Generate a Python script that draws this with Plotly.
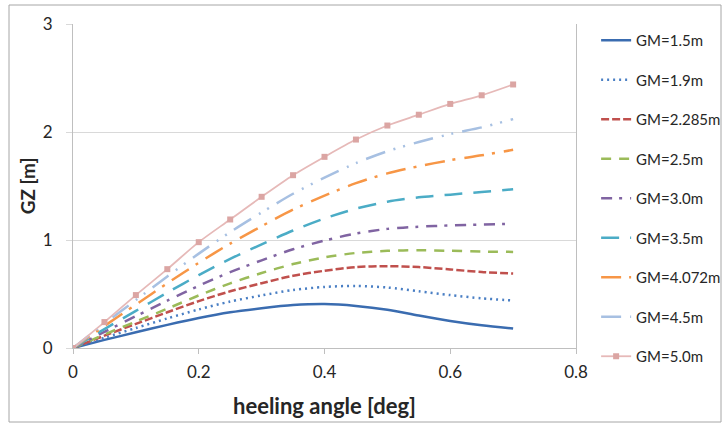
import plotly.graph_objects as go

# heeling angle values
angle = [0, 0.05, 0.1, 0.15, 0.2, 0.25, 0.3, 0.35, 0.4, 0.45, 0.5, 0.55, 0.6, 0.65, 0.7]

series_names = ["GM=1.5m", "GM=1.9m", "GM=2.285m", "GM=2.5m", "GM=3.0m",
                "GM=3.5m", "GM=4.072m", "GM=4.5m", "GM=5.0m"]

gz_15 = [0, 0.075, 0.145, 0.214, 0.278, 0.331, 0.368, 0.397, 0.407, 0.39, 0.355, 0.30, 0.25, 0.21, 0.18]
gz_19 = [0, 0.095, 0.185, 0.274, 0.357, 0.430, 0.487, 0.537, 0.565, 0.575, 0.56, 0.525, 0.49, 0.46, 0.44]
gz_2285 = [0, 0.114, 0.223, 0.331, 0.434, 0.525, 0.600, 0.669, 0.715, 0.749, 0.758, 0.749, 0.728, 0.703, 0.690]
gz_25 = [0, 0.125, 0.245, 0.364, 0.487, 0.599, 0.694, 0.777, 0.839, 0.880, 0.900, 0.905, 0.900, 0.893, 0.890]
gz_30 = [0, 0.150, 0.295, 0.438, 0.576, 0.702, 0.812, 0.914, 0.995, 1.060, 1.103, 1.123, 1.135, 1.142, 1.150]
gz_35 = [0, 0.175, 0.344, 0.513, 0.675, 0.826, 0.960, 1.088, 1.200, 1.290, 1.355, 1.395, 1.420, 1.445, 1.470]
gz_4072 = [0, 0.204, 0.402, 0.599, 0.789, 0.967, 1.128, 1.281, 1.411, 1.526, 1.617, 1.683, 1.739, 1.784, 1.835]
gz_45 = [0, 0.225, 0.444, 0.663, 0.874, 1.073, 1.255, 1.428, 1.577, 1.712, 1.822, 1.907, 1.981, 2.043, 2.119]
gz_50 = [0, 0.24, 0.49, 0.73, 0.98, 1.19, 1.40, 1.60, 1.77, 1.93, 2.06, 2.16, 2.26, 2.34, 2.44]

all_gz = [gz_15, gz_19, gz_2285, gz_25, gz_30, gz_35, gz_4072, gz_45, gz_50]

colors = ["#3a6cb0", "#4a7fc4", "#c0504d", "#9bbb59", "#8064a2",
          "#4bacc6", "#f79646", "#a7c0e2", "#e6b9b8"]
widths = [2.5, 2.5, 2.5, 2.5, 2.5, 2.5, 2.5, 2.5, 1.8]
dashes = ["solid", "2px,4px", "8px,3px", "10px,8px", "11px,7px,3px,8px",
          "18px,11px", "20px,8px,3px,9px", "20px,9px,2px,8px,2px,9px", "solid"]

fig = go.Figure()
for i, name in enumerate(series_names):
    marker = dict(symbol="square", size=6, color="#dba5a3") if name == "GM=5.0m" else None
    fig.add_trace(go.Scatter(
        x=angle, y=all_gz[i], name=name,
        mode="lines+markers" if marker else "lines",
        line=dict(color=colors[i], width=widths[i], dash=dashes[i], shape="spline", smoothing=0.8),
        marker=marker,
        legendgroup=name,
    ))

font_family = "Lato, Open Sans, sans-serif"

fig.update_layout(
    width=728, height=427,
    margin=dict(l=73, r=152, t=24, b=79, autoexpand=False),
    paper_bgcolor="white", plot_bgcolor="white",
    font=dict(family=font_family, color="#262626", size=15),
    legend=dict(x=1.04, y=1.0, xanchor="left", yanchor="top",
                font=dict(size=15, color="#262626"),
                tracegroupgap=17, bgcolor="rgba(0,0,0,0)",
                maxheight=420),
    xaxis=dict(range=[0, 0.8], tickvals=[0, 0.2, 0.4, 0.6, 0.8],
               ticktext=["0", "0.2", "0.4", "0.6", "0.8"],
               showgrid=False, zeroline=False,
               showline=True, linecolor="#bfbfbf", linewidth=1,
               ticks="outside", ticklen=5, tickcolor="#bfbfbf",
               tickfont=dict(size=17), ticklabelstandoff=4,
               title=dict(text="<b>heeling angle [deg]</b>", font=dict(size=22), standoff=17)),
    yaxis=dict(range=[0, 3], tickvals=[0, 1, 2, 3],
               showgrid=True, gridcolor="#d9d9d9", gridwidth=1.3, zeroline=False,
               showline=True, linecolor="#bfbfbf", linewidth=1, mirror=True,
               ticks="outside", ticklen=6, tickcolor="#d9d9d9",
               tickfont=dict(size=17), ticklabelstandoff=10,
               title=dict(text="<b>GZ [m]</b>", font=dict(size=19), standoff=2)),
)

# outer chart border
fig.add_shape(type="rect", xref="paper", yref="paper",
              x0=(9 - 73) / 503, x1=(721 - 73) / 503,
              y0=(348 - 422) / 324, y1=(348 - 5) / 324,
              line=dict(color="#a6a6a6", width=1), layer="below")

fig.write_html("out.html")
